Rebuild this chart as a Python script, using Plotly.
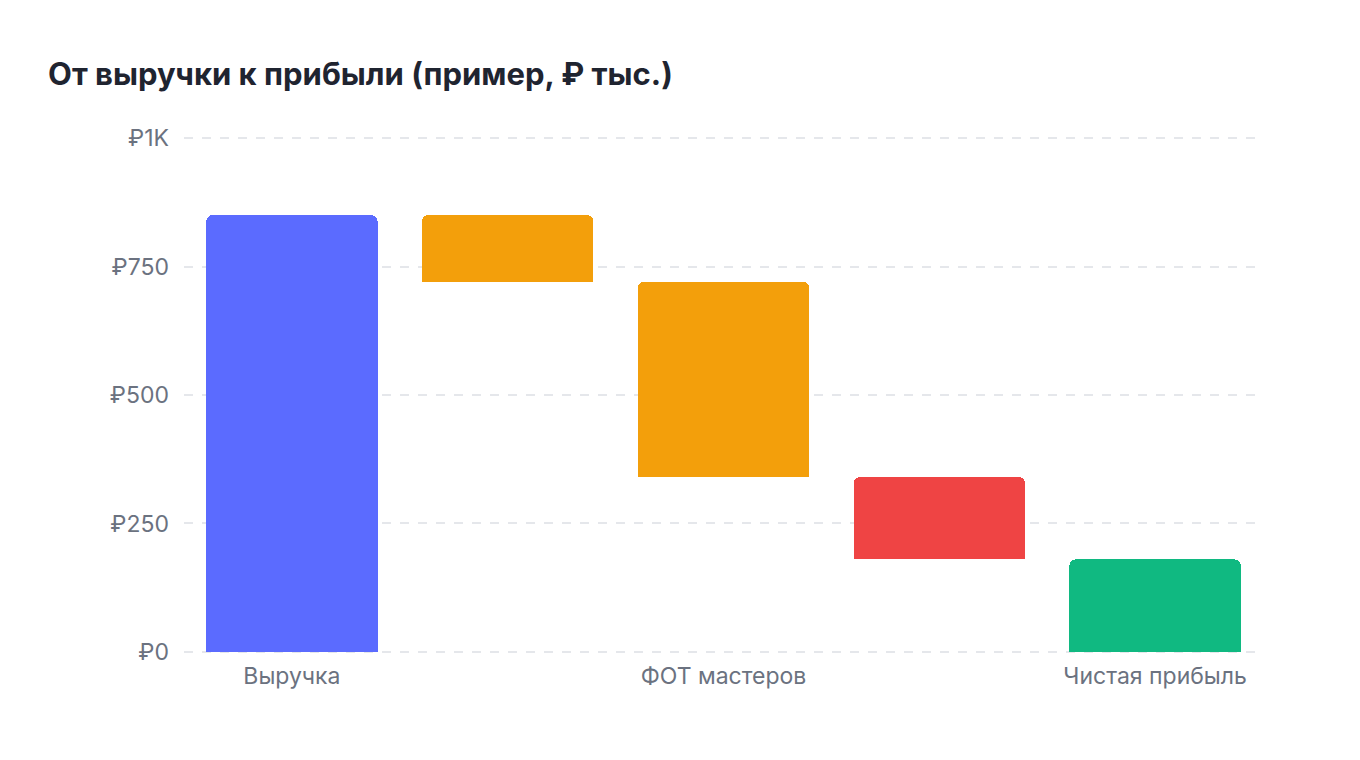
import plotly.graph_objects as go

categories = ["Выручка", "Материалы", "ФОТ мастеров", "Аренда и прочее", "Чистая прибыль"]
changes = [850, -130, -380, -160, 180]
kinds = ["total", "relative", "relative", "relative", "total"]
colors = ["#5B6BFF", "#F39F0B", "#F39F0B", "#EF4444", "#10B981"]
shown_labels = ["Выручка", "ФОТ мастеров", "Чистая прибыль"]
y_ticks = [0, 250, 500, 750, 1000]
y_tick_text = ["₽0", "₽250", "₽500", "₽750", "₽1K"]

# compute floating bar bases/heights from the waterfall changes
bases, heights = [], []
running = 0
for v, k in zip(changes, kinds):
    if k == "total":
        bases.append(0)
        heights.append(v)
        running = v
    else:
        new = running + v
        bases.append(min(running, new))
        heights.append(abs(v))
        running = new

fig = go.Figure()
fig.add_trace(go.Bar(
    x=categories, y=bases,
    marker=dict(color="rgba(0,0,0,0)", line=dict(width=0)),
    hoverinfo="skip",
))
fig.add_trace(go.Bar(
    x=categories, y=heights,
    marker=dict(color=colors, line=dict(width=0)),
    hoverinfo="skip",
))

fig.update_layout(
    width=1360, height=760,
    paper_bgcolor="white", plot_bgcolor="white",
    margin=dict(l=184, r=97, t=135, b=105),
    font=dict(family="Inter, Noto Sans, sans-serif", color="#6B7280", size=18),
    title=dict(text="<b>От выручки к прибыли (пример, ₽ тыс.)</b>",
               x=48/1360, xref="container", xanchor="left",
               y=1-74/760, yref="container", yanchor="middle",
               font=dict(size=31, color="#1F2430", family="Inter, Noto Sans, sans-serif")),
    barmode="stack",
    bargap=0.206,
    barcornerradius=6,
    showlegend=False,
)
fig.update_xaxes(
    tickmode="array", tickvals=shown_labels, ticktext=shown_labels,
    showgrid=False, zeroline=False, showline=False, ticks="",
    ticklabelstandoff=5,
    tickfont=dict(size=23, color="#6B7280"),
)
fig.update_yaxes(
    range=[-6, 1006], tickvals=y_ticks, ticktext=y_tick_text,
    showgrid=True, gridcolor="#E5E7EB", griddash="dash", gridwidth=1.5,
    zeroline=False, showline=False, ticks="",
    ticklabelstandoff=14,
    tickfont=dict(size=23, color="#6B7280"),
)

fig.write_html("out.html")
